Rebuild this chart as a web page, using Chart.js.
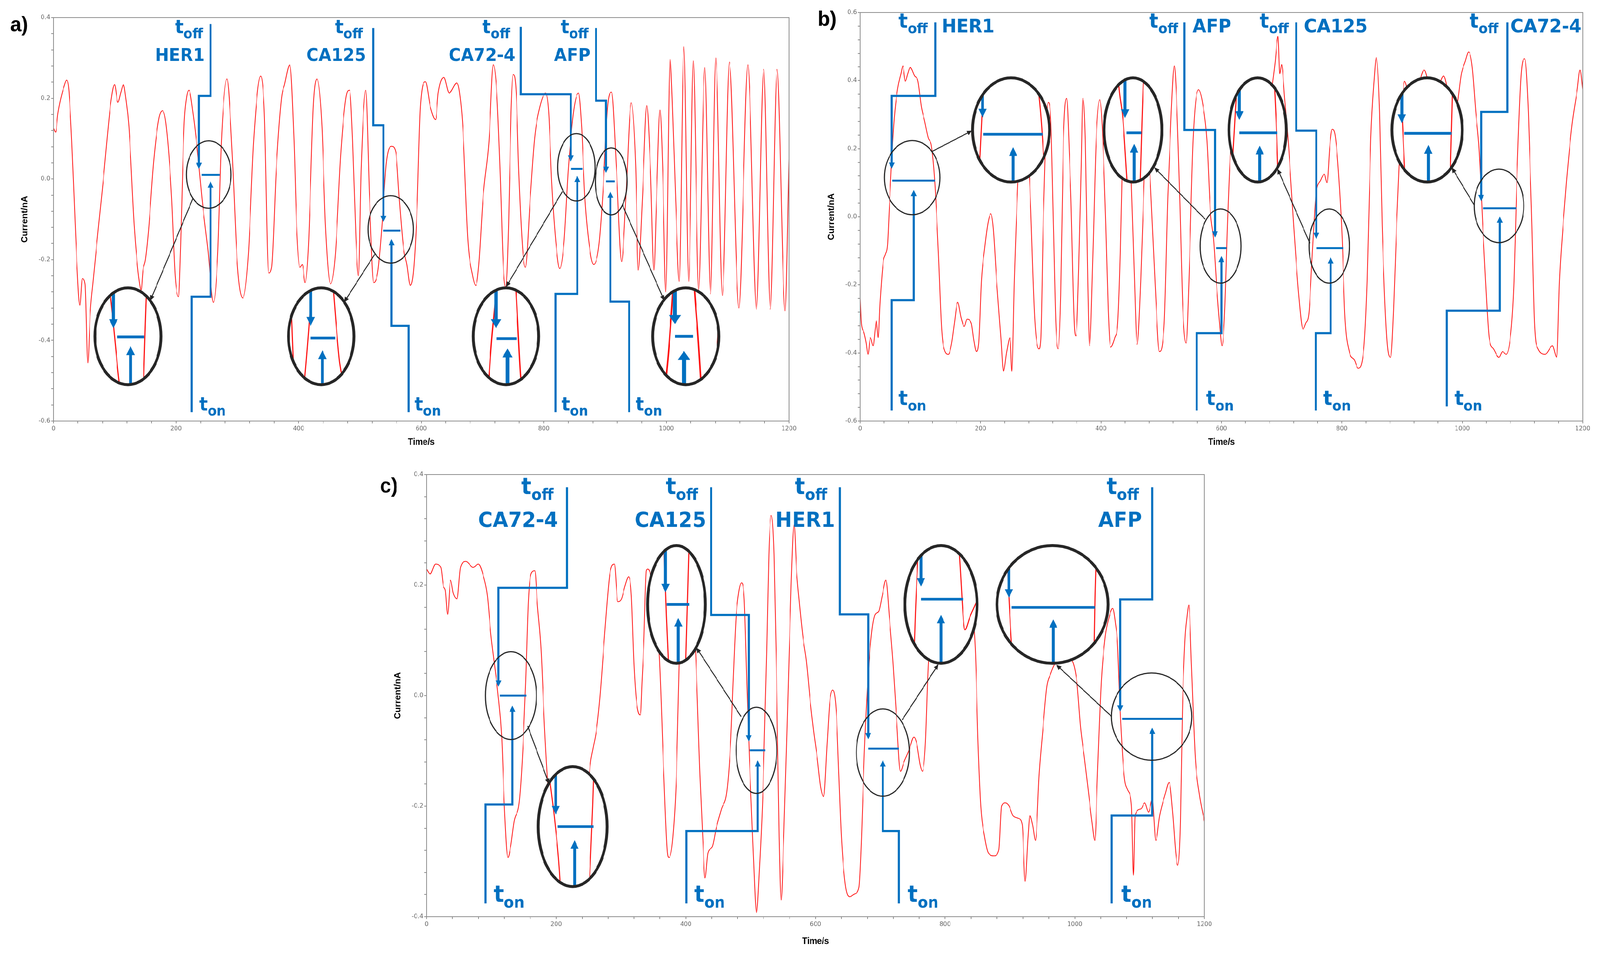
<!DOCTYPE html>
<html>
<head>
<meta charset="utf-8">
<script src="https://cdn.jsdelivr.net/npm/chart.js@4.4.0/dist/chart.umd.min.js"></script>
<style>
  html, body { margin: 0; padding: 0; background: #fff; overflow: hidden; }
  #page { position: absolute; left: 0; top: 0; width: 4336px; height: 2440px; transform-origin: 0 0; }
  canvas { position: absolute; }
</style>
</head>
<body>
<div id="page">
<canvas id="chartA" width="2200" height="1160" style="left:0px;top:0px"></canvas>
<canvas id="chartB" width="2136" height="1160" style="left:2200px;top:0px"></canvas>
<canvas id="chartC" width="2300" height="1260" style="left:1000px;top:1180px"></canvas>
</div>
<script>
// ---- panel a) ----
const timeA = [0,3.5,7,12,17,21.5,25,29.7,34,38,43,47,51.5,56,60,64.6,70,76,82,88,93.7,99.6,105,110,114,118,123,131.6,136,140,143,146,150,155,163.6,172,178,184,192.7,198.5,204,207,213,217,221,227.6,236,242,252,261,268,274,283,291.7,300,309,318,326.6,338,344,351,356,363.5,372,377,385.6,392.5,396.7,402,406,410.5,416,424,430,438,443.7,452,460,468.6,477,483,488,493.5,497.6,502,509.5,515.6,522.5,529.5,536,543,551.6,558.5,564,571,576.5,582,587.6,593,598.6,607,615,623.5,627.7,637,645.6,658,662,667.8,676,684,689,694,701,710.6,717.6,723,728.6,734,738,742.5,746.6,750,755,759,766,770,778,785,793.5,803,808,813,820.5,826,833,840,849,856.6,861.7,867,876,881.6,890,896,904,910.6,918.5,927,934,942.7,950,954,961,968,974,979.7,984,989.6,994,999,1006,1009.5,1015,1021,1028.6,1036.5,1044,1052.7,1062.7,1072,1080.6,1091.4,1102.8,1118.4,1133,1147,1158.8,1169.6,1180.7,1193.7,1200];
const currentA = [0.126,0.116,0.16,0.2,0.228,0.245,0.22,0.095,-0.06,-0.205,-0.313,-0.247,-0.26,-0.456,-0.33,-0.254,-0.17,-0.08,0.01,0.109,0.192,0.234,0.19,0.215,0.234,0.2,0.13,-0.114,-0.2,-0.254,-0.275,-0.226,-0.2,-0.128,0.046,0.15,0.169,0.13,-0.045,-0.24,-0.292,-0.184,0.13,0.2,0.22,0.164,0.053,-0.045,-0.177,-0.306,-0.184,0.095,0.248,0.06,-0.212,-0.295,-0.184,0.095,0.255,0.164,-0.233,-0.219,0.025,0.2,0.234,0.283,0.095,-0.114,-0.219,-0.212,-0.257,-0.163,0.185,0.248,0.13,-0.114,-0.26,-0.184,0.06,0.2,0.22,0.095,-0.149,-0.24,0.025,0.22,-0.045,-0.257,-0.226,-0.114,0.039,0.081,0.067,-0.045,-0.17,-0.212,-0.264,-0.226,-0.08,0.178,0.241,0.178,0.147,0.213,0.252,0.213,0.238,0.22,0.13,-0.149,-0.24,-0.264,-0.212,-0.045,0.095,0.283,0.22,0.025,-0.219,-0.268,-0.114,0.164,0.259,0.213,0.025,-0.184,-0.219,-0.045,0.1,0.178,0.213,0.164,-0.01,-0.17,-0.222,-0.156,0.025,0.171,0.213,0.13,-0.045,-0.184,-0.212,-0.163,-0.045,0.178,0.215,0.025,-0.205,-0.045,0.189,0.025,-0.226,-0.045,0.182,0.025,-0.226,-0.045,0.171,0.025,-0.28,0.297,0.2,-0.045,-0.254,0.328,-0.254,0.293,-0.275,0.276,-0.285,0.3,-0.289,0.29,-0.32,0.283,-0.323,0.272,-0.323,0.272,-0.327,0.05];

// ---- panel b) ----
const timeB = [0,2,6,10,13,17,21.6,25,27,30,33,38.5,42,45.5,48,52.5,56.7,62,68,71,75,79,83,90.4,96,101.7,107,113,118.5,124,130,135.4,141,146.6,152,156.5,162,167.7,173,177.5,184.6,188.8,193,197,201.4,207,212.6,217,221,226.7,233.7,238,243.5,249,252,256,263,272,281.5,290,297,300,304,308,312.4,316.6,321,325,329,333,337.6,343,347.5,350,355.6,358.5,363,367,369.8,374,378,381,386.7,392,398,402,408,412,416,423,427.7,432,434.7,442,450.3,455,460,466,471.5,476,481.4,490,497,505,511,516.7,521.8,525,530.8,536,541.5,546,553,562,569,576,581.6,587,591.5,597,601,605.6,610,615.5,625,645,665,682,689,694,697,700,705,711.6,720,728.5,735.6,740,745.5,751,756.8,765,771,775.4,780,784,788.8,794.7,800.6,805,812.4,821,827,836,842,848,853.8,857.4,862.7,867,874.6,881,886,891,895,900,904,915,925,936.7,950,960,969,980,990,998.8,1004.7,1010.7,1016.6,1022.5,1028,1034,1038.8,1044.7,1052,1061,1066.9,1073,1081.7,1086,1090.5,1098,1103.8,1109.8,1115.7,1120,1126,1137.9,1149.7,1157,1161.5,1167.5,1173,1182,1191,1195.6,1200];
const currentB = [-0.239,-0.313,-0.338,-0.37,-0.404,-0.355,-0.379,-0.33,-0.305,-0.355,-0.255,-0.131,-0.11,-0.082,0.009,0.174,0.29,0.373,0.422,0.443,0.398,0.42,0.439,0.414,0.398,0.323,0.282,0.232,0.207,0.1,-0.107,-0.33,-0.396,-0.404,-0.371,-0.313,-0.251,-0.297,-0.322,-0.301,-0.313,-0.363,-0.396,-0.371,-0.189,-0.09,-0.016,0.009,-0.032,-0.189,-0.355,-0.454,-0.396,-0.355,-0.454,-0.189,0.141,0.36,0.104,-0.3,-0.388,-0.36,-0.024,0.224,0.336,0.282,-0.024,-0.313,-0.388,-0.23,0.224,0.348,0.183,0.059,-0.313,-0.35,-0.15,0.141,0.348,0.224,-0.189,-0.379,-0.107,0.224,0.344,0.265,-0.024,-0.272,-0.383,-0.355,-0.313,-0.107,0.104,0.36,0.104,-0.15,-0.375,-0.189,0.1,0.36,0.125,-0.2,-0.396,-0.313,0.059,0.307,0.443,0.365,0.059,-0.272,-0.371,-0.189,0.224,0.373,0.331,0.224,0.017,-0.066,-0.189,-0.313,-0.379,-0.272,-0.024,0.207,0.3,0.34,0.3,0.36,0.45,0.53,0.42,0.447,0.35,0.207,-0.024,-0.23,-0.33,-0.313,-0.28,-0.107,0.059,0.108,0.125,0.1,0.207,0.257,0.24,0.125,-0.066,-0.288,-0.396,-0.421,-0.445,-0.396,-0.189,0.224,0.406,0.468,0.307,-0.024,-0.355,-0.413,-0.272,-0.024,0.141,0.3,0.398,0.33,0.37,0.431,0.36,0.38,0.414,0.34,0.323,0.422,0.455,0.484,0.439,0.307,0.199,-0.024,-0.189,-0.355,-0.388,-0.413,-0.396,-0.404,-0.322,-0.189,0.1,0.422,0.464,0.307,-0.024,-0.313,-0.388,-0.404,-0.379,-0.413,-0.189,-0.024,0.1,0.265,0.373,0.431,0.373];

// ---- panel c) ----
const timeC = [0,5.5,13.8,22,26,29,32.5,37,41,47,52.4,60.7,71.7,80,88,93.8,99,104.8,110,115.9,120,125.5,129.7,135,143.4,149,153,157,161.4,167,171,176.6,182,187.6,195.9,205,220,235,245,252.4,256.6,262,267.6,273,278.6,282.8,289.7,295,300.7,306,311.7,315.9,320,324,329.7,332.4,335,339,341,345,352,359,366,371.6,374,380,385.5,389.7,396,402,409,414.8,421.7,426,429.5,434,441,446.8,455,463.5,469,473,477.4,481.6,485.8,490,494,498,504,509,513.6,519,524.8,528,531.5,536,540,544,547,551,556.8,562.4,567,570.8,575,580.5,586,591.6,597,602.8,608,612.5,618,622,626.5,632,636,640,646,653,660,667,671,675,680.8,686,692,697.5,703,708.6,714,719.8,725,731,736.5,744.8,751.8,756,761.6,765,769.5,774,785,800,820,835,846.5,850.8,855,861,866.8,875.5,882.8,887,893,898.7,904.6,913,919,923.4,927.8,930.7,935,939.4,945,951,956.8,962.6,968.4,980,992,1003,1009,1015,1020.7,1026.5,1031,1035,1041,1047,1052.7,1058.5,1062.8,1065.8,1070,1076,1081.7,1087.5,1090.5,1093,1102,1107.9,1113.7,1119.5,1125,1131,1139.8,1145.6,1151,1155.8,1158.7,1163,1166,1170,1173,1176,1180,1186,1192,1200];
const currentC = [0.229,0.22,0.238,0.232,0.198,0.19,0.147,0.209,0.186,0.175,0.232,0.243,0.232,0.238,0.215,0.181,0.113,0.056,0.005,-0.075,-0.2,-0.293,-0.273,-0.228,-0.188,-0.086,0.027,0.17,0.221,0.226,0.164,0.084,-0.058,-0.171,-0.256,-0.3,-0.33,-0.32,-0.25,-0.126,-0.097,-0.063,-0.001,0.084,0.17,0.221,0.238,0.17,0.175,0.198,0.215,0.181,0.056,-0.012,-0.035,0.027,0.09,0.226,0.229,0.22,0.15,0.073,-0.143,-0.285,-0.293,-0.256,-0.143,0.056,0.18,0.21,0.17,0.084,-0.143,-0.256,-0.33,-0.285,-0.273,-0.24,-0.205,-0.171,-0.086,0.027,0.141,0.187,0.204,0.175,0.027,-0.114,-0.285,-0.393,-0.313,-0.171,0.084,0.255,0.326,0.255,0.027,-0.256,-0.37,-0.256,-0.03,0.198,0.309,0.226,0.17,0.107,0.062,-0.007,-0.063,-0.114,-0.166,-0.183,-0.086,-0.012,0.01,-0.029,-0.143,-0.256,-0.342,-0.364,-0.359,-0.347,-0.256,-0.114,0.027,0.107,0.147,0.152,0.181,0.209,0.141,0.056,-0.041,-0.137,-0.12,-0.097,-0.075,-0.086,-0.126,-0.137,-0.086,0.056,0.15,0.2,0.23,0.2,0.084,-0.086,-0.2,-0.256,-0.285,-0.29,-0.279,-0.2,-0.194,-0.2,-0.217,-0.222,-0.234,-0.336,-0.256,-0.217,-0.234,-0.262,-0.143,-0.058,0.016,0.039,0.056,0.075,0.07,0.027,-0.058,-0.114,-0.171,-0.228,-0.262,-0.143,0.027,0.107,0.141,0.158,0.13,0.096,-0.029,-0.143,-0.171,-0.2,-0.325,-0.217,-0.205,-0.194,-0.211,-0.188,-0.262,-0.217,-0.177,-0.157,-0.211,-0.285,-0.307,-0.228,-0.029,0.101,0.141,0.164,0.056,-0.114,-0.177,-0.228];

// t_off / t_on markers, zoom lens and enlarged inset, in data units
const markersA = [
  { name: 'HER1', off: [[256.2,0.384],[256.2,0.206],[237.3,0.206],[237.3,0.025]], on: [[225.6,-0.578],[225.6,-0.292],[256.2,-0.292],[256.2,-0.006]],
    bar: [[241.6,0.01],[271.3,0.01]], lens: [253.3,0.011,36.4,0.0836], inset: [121.4,-0.39,53.9,0.12], link: [[227.6,-0.048],[157.8,-0.302]], offX: 243.7, nameX: 246.6, onX: 237.8 },
  { name: 'CA125', off: [[521.7,0.374],[521.7,0.133],[538.3,0.133],[538.3,-0.107]], on: [[579.3,-0.578],[579.3,-0.364],[551.6,-0.364],[551.6,-0.149]],
    bar: [[538.3,-0.128],[566,-0.128]], lens: [550.2,-0.125,37,0.0836], inset: [436.8,-0.39,53.4,0.12], link: [[524,-0.187],[474,-0.306]], offX: 504.6, nameX: 510, onX: 589 },
  { name: 'CA72-4', off: [[762.4,0.377],[762.4,0.21],[844,0.21],[844,0.043]], on: [[819,-0.578],[819,-0.285],[854.6,-0.285],[854.6,0.008]],
    bar: [[844.6,0.025],[863,0.025]], lens: [853.2,0.029,30.4,0.0836], inset: [738.3,-0.39,53.4,0.12], link: [[830.4,-0.031],[738.3,-0.268]], offX: 745, nameX: 753.5, onX: 829 },
  { name: 'AFP', off: [[885.3,0.374],[885.3,0.194],[901.5,0.194],[901.5,0.015]], on: [[939.3,-0.578],[939.3,-0.304],[908.6,-0.304],[908.6,-0.031]],
    bar: [[901.5,-0.006],[915.7,-0.006]], lens: [910,-0.006,25.9,0.083], inset: [1031.7,-0.39,54,0.12], link: [[928.5,-0.065],[996.7,-0.302]], offX: 873, nameX: 876, onX: 949.8 }
];
const markersB = [
  { name: 'HER1', off: [[124.7,0.571],[124.7,0.355],[52.5,0.355],[52.5,0.141]], on: [[52.5,-0.569],[52.5,-0.245],[89,-0.245],[89,0.079]],
    bar: [[53.4,0.106],[124.2,0.106]], lens: [86.5,0.115,46,0.109], inset: [250.6,0.255,63.9,0.153], link: [[118.5,0.191],[186,0.253]], offX: 63.8, nameX: 135.4, onX: 63.8 },
  { name: 'AFP', off: [[538.7,0.571],[538.7,0.255],[589.3,0.255],[589.3,-0.061]], on: [[559,-0.569],[559,-0.342],[600,-0.342],[600,-0.115]],
    bar: [[591,-0.092],[608.5,-0.092]], lens: [598.6,-0.086,33.9,0.109], inset: [453.1,0.255,48,0.153], link: [[573,-0.007],[488.4,0.145]], offX: 480, nameX: 552, onX: 574.6 },
  { name: 'CA125', off: [[724.3,0.571],[724.3,0.253],[757.6,0.253],[757.6,-0.065]], on: [[756.8,-0.569],[756.8,-0.342],[781.4,-0.342],[781.4,-0.119]],
    bar: [[757.6,-0.092],[802,-0.092]], lens: [779,-0.086,33.5,0.109], inset: [660.2,0.255,47.6,0.153], link: [[746.9,-0.078],[693.2,0.141]], offX: 663.6, nameX: 737, onX: 769 },
  { name: 'CA72-4', off: [[1074.9,0.571],[1074.9,0.308],[1031.4,0.308],[1031.4,0.046]], on: [[974.3,-0.557],[974.3,-0.276],[1062.4,-0.276],[1062.4,0.001]],
    bar: [[1034.3,0.025],[1089.6,0.025]], lens: [1061,0.032,41.1,0.108], inset: [941.7,0.255,58.4,0.153], link: [[1020,0.034],[982.5,0.145]], offX: 1012, nameX: 1080, onX: 987 }
];
const markersC = [
  { name: 'CA72-4', off: [[216.6,0.377],[216.6,0.195],[110.9,0.195],[110.9,0.016]], on: [[91,-0.376],[91,-0.197],[132.4,-0.197],[132.4,-0.018]],
    bar: [[113.1,0.0],[154,0.0]], lens: [130.2,0.0,39.3,0.0795], inset: [225.4,-0.237,53.1,0.1085], link: [[155.9,-0.055],[189,-0.16]], offX: 195.9, nameX: 202.8, onX: 103.4 },
  { name: 'CA125', off: [[439,0.377],[439,0.146],[497,0.146],[497,-0.083]], on: [[400.8,-0.376],[400.8,-0.245],[510.9,-0.245],[510.9,-0.117]],
    bar: [[498.3,-0.099],[522.6,-0.099]], lens: [508.9,-0.099,31.3,0.078], inset: [385.5,0.165,44.6,0.1065], link: [[485.2,-0.038],[416.2,0.087]], offX: 418.9, nameX: 431.5, onX: 412.8 },
  { name: 'HER1', off: [[637.6,0.377],[637.6,0.147],[681.3,0.147],[681.3,-0.079]], on: [[728.7,-0.376],[728.7,-0.245],[703.9,-0.245],[703.9,-0.117]],
    bar: [[681.3,-0.096],[728.7,-0.096]], lens: [703.9,-0.103,40.8,0.079], inset: [793.6,0.165,55.7,0.1065], link: [[733.7,-0.044],[789.8,0.057]], offX: 618, nameX: 630, onX: 742 },
  { name: 'AFP', off: [[1119.5,0.377],[1119.5,0.174],[1070,0.174],[1070,-0.029]], on: [[1057,-0.376],[1057,-0.217],[1119.5,-0.217],[1119.5,-0.058]],
    bar: [[1073,-0.042],[1166,-0.042]], lens: [1118.6,-0.038,62,0.079], inset: [965.6,0.165,85.7,0.1065], link: [[1057,-0.038],[971.4,0.056]], offX: 1099, nameX: 1103.5, onX: 1071.6 }
];

const BLUE = '#0070c0';
const INK = '#262626';
const RED = '#ff1010';
const FONT = '"DejaVu Sans", Verdana, sans-serif';
Chart.defaults.font.family = FONT;

// map the 4336x2440 layout onto the viewport we actually get
const fitX = window.innerWidth / 4336, fitY = window.innerHeight / 2440;
document.getElementById('page').style.transform = 'scale(' + fitX + ',' + fitY + ')';

function arrowLine(ctx, pts, w, color, hl, hw) {
  const n = pts.length;
  const [tx, ty] = pts[n - 1], [px, py] = pts[n - 2];
  const len = Math.hypot(tx - px, ty - py), ux = (tx - px) / len, uy = (ty - py) / len;
  ctx.strokeStyle = color; ctx.fillStyle = color; ctx.lineWidth = w;
  ctx.lineJoin = 'miter'; ctx.lineCap = 'butt';
  ctx.beginPath();
  ctx.moveTo(pts[0][0], pts[0][1]);
  for (let i = 1; i < n - 1; i++) ctx.lineTo(pts[i][0], pts[i][1]);
  ctx.lineTo(tx - ux * hl * 0.8, ty - uy * hl * 0.8);
  ctx.stroke();
  ctx.beginPath();
  ctx.moveTo(tx, ty);
  ctx.lineTo(tx - ux * hl - uy * hw, ty - uy * hl + ux * hw);
  ctx.lineTo(tx - ux * hl + uy * hw, ty - uy * hl - ux * hw);
  ctx.closePath(); ctx.fill();
}

function subText(ctx, x, y, main, sub, f, align) {
  ctx.font = 'bold ' + f.t + 'px ' + FONT;
  const w1 = ctx.measureText(main).width;
  ctx.font = 'bold ' + f.s + 'px ' + FONT;
  const w2 = ctx.measureText(sub).width;
  const x0 = align === 'right' ? x - w1 - w2 : x;
  ctx.textAlign = 'left'; ctx.textBaseline = 'alphabetic';
  ctx.font = 'bold ' + f.t + 'px ' + FONT;
  ctx.fillText(main, x0, y);
  ctx.font = 'bold ' + f.s + 'px ' + FONT;
  ctx.fillText(sub, x0 + w1, y + f.t * 0.26);
}

function buildChart(cfg) {
  const pts = cfg.time.map((t, i) => ({ x: t, y: cfg.current[i] }));

  const overlay = {
    id: 'overlay',
    afterDatasetsDraw(chart) {
      const ctx = chart.ctx, xs = chart.scales.x, ys = chart.scales.y, ca = chart.chartArea;
      const px = p => [xs.getPixelForValue(p[0]), ys.getPixelForValue(p[1])];
      const ell = e => ({ x: xs.getPixelForValue(e[0]), y: ys.getPixelForValue(e[1]),
        rx: Math.abs(xs.getPixelForValue(e[0] + e[2]) - xs.getPixelForValue(e[0])),
        ry: Math.abs(ys.getPixelForValue(e[1] + e[3]) - ys.getPixelForValue(e[1])) });
      const drawBlue = g => {
        arrowLine(ctx, g.off.map(px), 5.5, BLUE, 16, 8);
        arrowLine(ctx, g.on.map(px), 5.5, BLUE, 16, 8);
        ctx.beginPath();
        ctx.moveTo(...px(g.bar[0])); ctx.lineTo(...px(g.bar[1]));
        ctx.lineWidth = 5; ctx.strokeStyle = BLUE; ctx.stroke();
      };
      const meta = chart.getDatasetMeta(0);

      ctx.save();
      // plot frame
      ctx.strokeStyle = '#8c8c8c'; ctx.lineWidth = 2;
      ctx.strokeRect(ca.left, ca.top, ca.right - ca.left, ca.bottom - ca.top);

      cfg.markers.forEach(g => {
        drawBlue(g);
        const L = ell(g.lens);
        ctx.beginPath(); ctx.ellipse(L.x, L.y, L.rx, L.ry, 0, 0, Math.PI * 2);
        ctx.lineWidth = 3; ctx.strokeStyle = INK; ctx.stroke();
      });

      // enlarged insets
      cfg.markers.forEach(g => {
        const L = ell(g.lens), I = ell(g.inset);
        ctx.save();
        ctx.beginPath(); ctx.ellipse(I.x, I.y, I.rx, I.ry, 0, 0, Math.PI * 2);
        ctx.fillStyle = '#fff'; ctx.fill(); ctx.clip();
        ctx.translate(I.x, I.y); ctx.scale(I.rx / L.rx, I.ry / L.ry); ctx.translate(-L.x, -L.y);
        meta.dataset.draw(ctx, ca);
        drawBlue(g);
        ctx.restore();
        ctx.beginPath(); ctx.ellipse(I.x, I.y, I.rx, I.ry, 0, 0, Math.PI * 2);
        ctx.lineWidth = 7.5; ctx.strokeStyle = INK; ctx.stroke();
        arrowLine(ctx, g.link.map(px), 2.5, INK, 14, 6);
      });

      // labels
      ctx.fillStyle = BLUE;
      const ty = cfg.textY;
      cfg.markers.forEach(g => {
        subText(ctx, xs.getPixelForValue(g.offX), ys.getPixelForValue(ty.off), 't', 'off', cfg.font, cfg.align);
        ctx.font = 'bold ' + cfg.font.name + 'px ' + FONT;
        ctx.textAlign = cfg.align; ctx.textBaseline = 'alphabetic';
        ctx.fillText(g.name, xs.getPixelForValue(g.nameX), ys.getPixelForValue(ty.name));
        subText(ctx, xs.getPixelForValue(g.onX), ys.getPixelForValue(ty.on), 't', 'on', cfg.font, 'left');
      });
      ctx.restore();
    },
    afterDraw(chart) {
      const ctx = chart.ctx, ca = chart.chartArea;
      ctx.save();
      ctx.fillStyle = '#000';
      ctx.font = 'bold 23px "Liberation Sans", Arial, sans-serif';
      ctx.textAlign = 'center'; ctx.textBaseline = 'middle';
      ctx.fillText('Time/s', (ca.left + ca.right) / 2, ca.bottom + cfg.xTitleGap);
      ctx.translate(ca.left - 77, (ca.top + ca.bottom) / 2);
      ctx.rotate(-Math.PI / 2);
      ctx.fillText('Current/nA', 0, 0);
      ctx.restore();
      ctx.save();
      ctx.fillStyle = '#000';
      ctx.font = 'bold 54px "Liberation Sans", Arial, sans-serif';
      ctx.textAlign = 'left'; ctx.textBaseline = 'alphabetic';
      ctx.fillText(cfg.panel, cfg.panelAt[0], cfg.panelAt[1]);
      ctx.restore();
    }
  };

  const tickFont = { size: 16, family: FONT };
  return new Chart(document.getElementById(cfg.id), {
    type: 'line',
    data: { datasets: [{ data: pts, borderColor: RED, borderWidth: 2, pointRadius: 0, fill: false, cubicInterpolationMode: 'monotone' }] },
    options: {
      responsive: false, animation: false, devicePixelRatio: 1, events: [],
      layout: { padding: cfg.pad },
      plugins: { legend: { display: false }, tooltip: { enabled: false } },
      scales: {
        x: {
          type: 'linear', min: 0, max: 1200,
          afterFit: s => { s.height = cfg.xH; },
          ticks: { stepSize: 40, autoSkip: false, maxRotation: 0, padding: 4, color: '#666', font: tickFont,
            callback: v => (Math.round(v) % 200 === 0 ? String(Math.round(v)) : '') },
          grid: { drawOnChartArea: false, tickLength: 6, color: '#8c8c8c', lineWidth: 2 },
          border: { display: false }
        },
        y: {
          min: cfg.yMin, max: cfg.yMax,
          afterFit: s => { s.width = cfg.yW; },
          ticks: { stepSize: 0.04, autoSkip: false, padding: 3, color: '#666', font: tickFont,
            callback: v => { const k = Math.round(v * 25); return k % 5 === 0 ? (k / 25).toFixed(1) : ''; } },
          grid: { drawOnChartArea: false, tickLength: 6, color: '#8c8c8c', lineWidth: 2 },
          border: { display: false }
        }
      }
    },
    plugins: [overlay]
  });
}

buildChart({ id: 'chartA', time: timeA, current: currentA, yMin: -0.6, yMax: 0.4, markers: markersA,
  pad: { left: 0, top: 45, right: 62, bottom: 0 }, yW: 145, xH: 82, xTitleGap: 55,
  textY: { off: 0.361, name: 0.293, on: -0.574 }, align: 'right', font: { name: 45, t: 48, s: 35 },
  panel: 'a)', panelAt: [28, 80] });

buildChart({ id: 'chartB', time: timeB, current: currentB, yMin: -0.6, yMax: 0.6, markers: markersB,
  pad: { left: 0, top: 32, right: 47, bottom: 0 }, yW: 131, xH: 82, xTitleGap: 55,
  textY: { off: 0.555, name: 0.542, on: -0.553 }, align: 'left', font: { name: 48, t: 52, s: 36 },
  panel: 'b)', panelAt: [16, 66] });

buildChart({ id: 'chartC', time: timeC, current: currentC, yMin: -0.4, yMax: 0.4, markers: markersC,
  pad: { left: 0, top: 35, right: 36, bottom: 0 }, yW: 156, xH: 93, xTitleGap: 64,
  textY: { off: 0.365, name: 0.305, on: -0.373 }, align: 'right', font: { name: 54, t: 58, s: 40 },
  panel: 'c)', panelAt: [30, 81] });
</script>
</body>
</html>
